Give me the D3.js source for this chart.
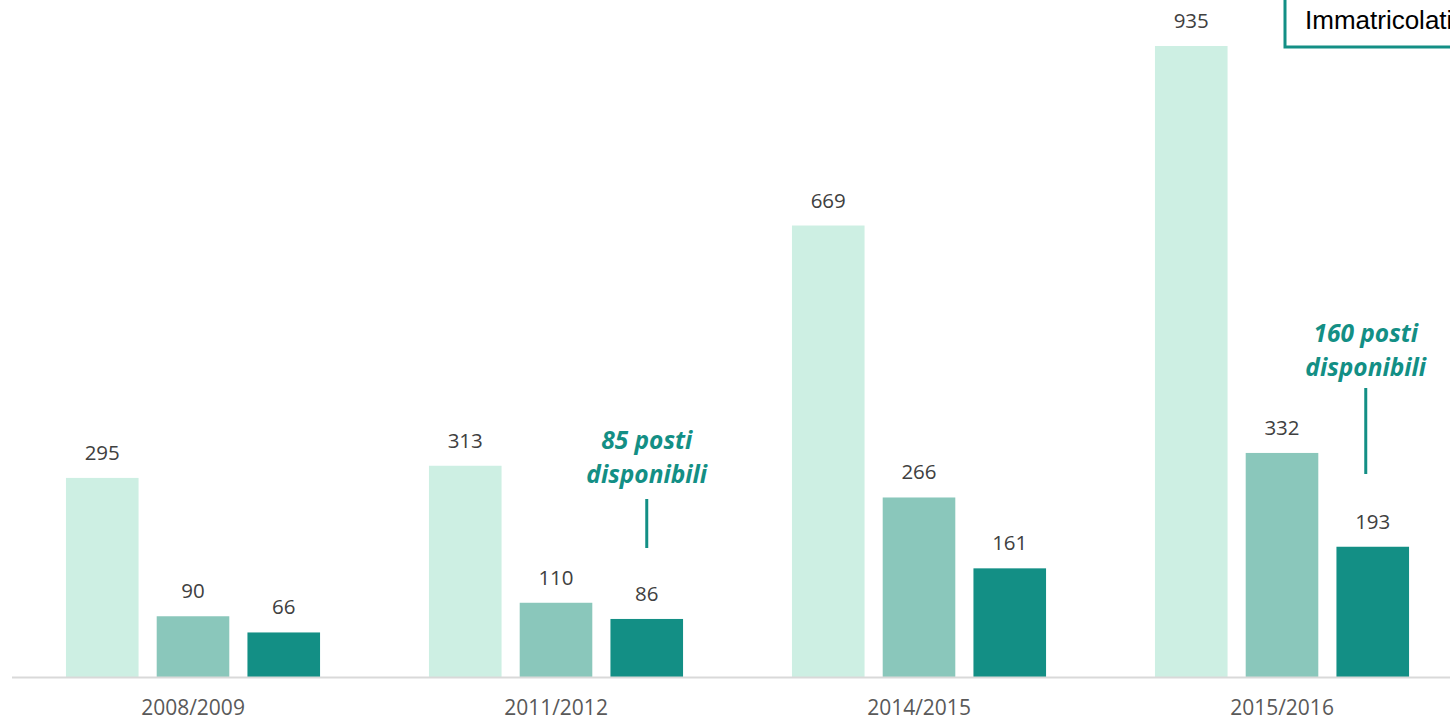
<!DOCTYPE html>
<html>
<head>
<meta charset="utf-8">
<script src="https://cdn.jsdelivr.net/npm/d3@7"></script>
<style>
  body { margin: 0; background: #fff; overflow: hidden; }
</style>
</head>
<body>
<div id="chart"></div>
<script>
// data
const years = ["2008/2009", "2011/2012", "2014/2015", "2015/2016"];
const seriesNames = ["Domande", "Ammessi", "Immatricolati"];
const domande = [295, 313, 669, 935];
const ammessi = [90, 110, 266, 332];
const immatricolati = [66, 86, 161, 193];
const notes = [
    { year: "2011/2012", lines: ["85 posti", "disponibili"] },
    { year: "2015/2016", lines: ["160 posti", "disponibili"] }
];

const colors = ["#cdefe3", "#8ac7bb", "#138f85"];

var width = 1450, height = 720;
var baseY = 677;

const svg = d3.select("#chart")
    .append("svg")
    .attr("width", width)
    .attr("height", height);

// scales
var x0 = d3.scaleBand()
    .domain(years)
    .range([11.5, 1463.5])
    .paddingInner(0.3)
    .paddingOuter(0.15);

var x1 = d3.scaleBand()
    .domain(seriesNames)
    .range([0, x0.bandwidth()])
    .paddingInner(0.2);

var y = d3.scaleLinear()
    .domain([0, 935])
    .range([baseY, 46]);

const table = years.map((yr, i) => ({
    year: yr,
    values: [domande[i], ammessi[i], immatricolati[i]]
}));

// bars
const groups = svg.selectAll("g.grp")
    .data(table)
    .enter()
    .append("g")
    .attr("class", "grp")
    .attr("transform", d => "translate(" + x0(d.year) + ",0)");

groups.selectAll("rect")
    .data(d => d.values.map((v, j) => ({ name: seriesNames[j], value: v, idx: j })))
    .enter()
    .append("rect")
    .attr("x", d => x1(d.name))
    .attr("width", x1.bandwidth())
    .attr("y", d => y(d.value))
    .attr("height", d => baseY - y(d.value))
    .style("fill", d => colors[d.idx]);

// value labels
groups.selectAll("text.val")
    .data(d => d.values.map((v, j) => ({ name: seriesNames[j], value: v })))
    .enter()
    .append("text")
    .attr("class", "val")
    .attr("x", d => x1(d.name) + x1.bandwidth() / 2)
    .attr("y", d => y(d.value) - 18)
    .attr("text-anchor", "middle")
    .style("font-family", "'Open Sans', sans-serif")
    .style("font-size", "20.5px")
    .style("fill", "#404040")
    .text(d => d.value);

// x axis
const xAxis = svg.append("g")
    .attr("transform", "translate(0," + baseY + ")")
    .call(d3.axisBottom(x0).tickSize(0).tickPadding(23.5));
xAxis.select(".domain")
    .attr("stroke", "#d9d9d9")
    .attr("stroke-width", 2);
xAxis.selectAll("text")
    .style("font-family", "'Open Sans', sans-serif")
    .style("font-size", "21px")
    .style("fill", "#595959");

// annotations
notes.forEach((n, k) => {
    var cx = x0(n.year) + x1("Immatricolati") + x1.bandwidth() / 2 - (k === 1 ? 7 : 0);
    var top = k === 0 ? 442 : 335;
    var t = svg.append("text")
        .attr("x", cx)
        .attr("text-anchor", "middle")
        .style("font-family", "'Open Sans', sans-serif")
        .style("font-weight", "bold")
        .style("font-style", "italic")
        .style("font-size", "24.5px")
        .style("fill", "#138f85");
    n.lines.forEach((l, i) => {
        t.append("tspan")
            .attr("x", cx)
            .attr("y", top + 7 + i * 34)
            .text(l);
    });
    var lineTop = k === 0 ? 499 : 388;
    var lineBot = k === 0 ? 548 : 474;
    svg.append("line")
        .attr("x1", cx).attr("x2", cx)
        .attr("y1", lineTop).attr("y2", lineBot)
        .attr("stroke", "#138f85")
        .attr("stroke-width", 3);
});

// legend box (cut by the page edge)
svg.append("rect")
    .attr("x", 1285)
    .attr("y", -10)
    .attr("width", 220)
    .attr("height", 57)
    .attr("fill", "#fff")
    .attr("stroke", "#138f85")
    .attr("stroke-width", 3);
svg.append("text")
    .attr("x", 1305)
    .attr("y", 29)
    .style("font-family", "'Liberation Sans', Arial, sans-serif")
    .style("font-size", "26px")
    .style("fill", "#000")
    .text("Immatricolati");
</script>
</body>
</html>
